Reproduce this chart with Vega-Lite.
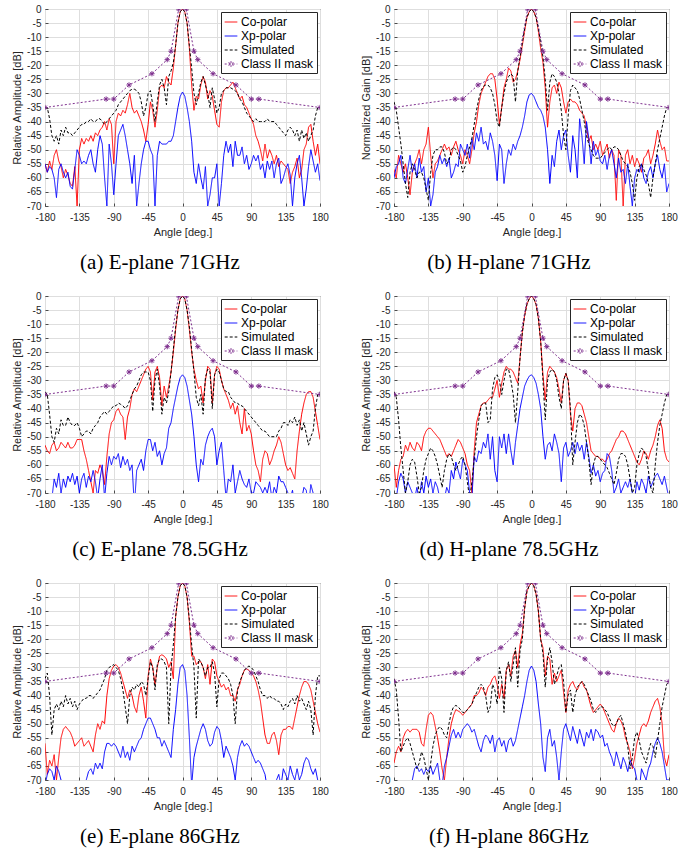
{
"$schema": "https://vega.github.io/schema/vega-lite/v6.json",
"padding": {"left": 11, "top": 3, "right": 5, "bottom": 5},
"config": {
 "font": "Liberation Sans",
 "view": {"stroke": "#262626", "strokeWidth": 1},
 "axis": {"grid": true, "gridColor": "#dedede", "gridWidth": 1, "domain": false, "tickSize": -3, "tickColor": "#262626", "tickWidth": 0.8, "labelFont": "Liberation Sans", "labelFontSize": 10, "labelColor": "#262626", "labelPadding": 7, "labelFlush": false, "labelOverlap": false, "titleFont": "Liberation Sans", "titleFontSize": 11, "titleFontWeight": "normal", "titleColor": "#262626", "titlePadding": 4},
 "axisX": {"labelPadding": 9, "titlePadding": 4},
 "legend": {"orient": "top-right", "offset": 3, "fillColor": "white", "strokeColor": "#262626", "padding": 3, "symbolType": "stroke", "symbolSize": 160, "symbolStrokeWidth": 1, "labelFont": "Liberation Sans", "labelFontSize": 12, "labelColor": "#000000", "labelOffset": 3, "rowPadding": 1, "cornerRadius": 0},
 "title": {"font": "Liberation Serif", "fontSize": 21, "fontWeight": "normal", "color": "#000000", "orient": "bottom", "offset": 15, "anchor": "middle", "frame": "bounds", "dx": -10}
},
"datasets": {
"M": [{"a":-180,"v":-35},{"a":-100,"v":-32},{"a":-90,"v":-32},{"a":-70,"v":-27},{"a":-40,"v":-23},{"a":-20,"v":-18},{"a":-15,"v":-15},{"a":-5,"v":0},{"a":5,"v":0},{"a":15,"v":-15},{"a":20,"v":-18},{"a":40,"v":-23},{"a":70,"v":-27},{"a":90,"v":-32},{"a":100,"v":-32},{"a":180,"v":-35}],
"A": [
{"a":-180,"c":-55,"x":-55,"s":-35},{"a":-177,"c":-58,"x":-58,"s":-35},{"a":-174,"c":-54,"x":-56,"s":-39},{"a":-171,"c":-57,"x":-57,"s":-45},{"a":-168,"c":-52,"x":-60,"s":-47},{"a":-165,"c":-50,"x":-67,"s":-45},{"a":-162,"c":-54,"x":-57,"s":-48},{"a":-159,"c":-56,"x":-55,"s":-43},{"a":-156,"c":-60,"x":-58,"s":-45},{"a":-153,"c":-57,"x":-60,"s":-42},{"a":-150,"c":-59,"x":-58,"s":-44},{"a":-147,"c":-62,"x":-63,"s":-44},{"a":-144,"c":-63,"x":-64,"s":-45},{"a":-141,"c":-56,"x":-57,"s":-44},{"a":-138,"c":-70,"x":-50,"s":-43},{"a":-135,"c":-50,"x":-52,"s":-42},{"a":-132,"c":-46,"x":-55,"s":-41},{"a":-129,"c":-48,"x":-54,"s":-41},{"a":-126,"c":-46,"x":-55,"s":-40},{"a":-123,"c":-47,"x":-52,"s":-40},{"a":-120,"c":-45,"x":-50,"s":-39},{"a":-117,"c":-47,"x":-55,"s":-40},{"a":-114,"c":-44,"x":-58,"s":-40},{"a":-111,"c":-45,"x":-50,"s":-39},{"a":-108,"c":-43,"x":-45,"s":-39},{"a":-105,"c":-42,"x":-48,"s":-40},{"a":-102,"c":-40,"x":-60,"s":-41},{"a":-99,"c":-43,"x":-70,"s":-40},{"a":-96,"c":-39,"x":-48,"s":-39},{"a":-93,"c":-41,"x":-55,"s":-38},{"a":-90,"c":-55,"x":-66,"s":-37},{"a":-87,"c":-40,"x":-55,"s":-36},{"a":-84,"c":-37,"x":-45,"s":-34},{"a":-81,"c":-38,"x":-43,"s":-33},{"a":-78,"c":-36,"x":-41,"s":-32},{"a":-75,"c":-37,"x":-45,"s":-31},{"a":-72,"c":-34,"x":-50,"s":-30},{"a":-69,"c":-30,"x":-55,"s":-29},{"a":-66,"c":-35,"x":-62,"s":-28.5},{"a":-63,"c":-37,"x":-52,"s":-28.5},{"a":-60,"c":-36,"x":-70,"s":-29},{"a":-57,"c":-38,"x":-62,"s":-30},{"a":-54,"c":-40,"x":-55,"s":-33},{"a":-51,"c":-43,"x":-50,"s":-38},{"a":-48,"c":-47,"x":-47,"s":-35},{"a":-45,"c":-41,"x":-47,"s":-30},{"a":-42,"c":-33,"x":-50,"s":-29},{"a":-39,"c":-36,"x":-52,"s":-34},{"a":-36,"c":-42,"x":-70,"s":-40},{"a":-33,"c":-36,"x":-52,"s":-33},{"a":-30,"c":-28,"x":-47,"s":-27},{"a":-27,"c":-27,"x":-48,"s":-25},{"a":-24,"c":-28,"x":-48,"s":-28},{"a":-21,"c":-24,"x":-48,"s":-34},{"a":-18,"c":-26,"x":-47,"s":-24},{"a":-15,"c":-27,"x":-47,"s":-22},{"a":-12,"c":-21,"x":-45,"s":-19},{"a":-9,"c":-13,"x":-40,"s":-13},{"a":-6,"c":-5,"x":-35,"s":-5},{"a":-3,"c":-1,"x":-31,"s":-1},{"a":0,"c":0,"x":-29.5,"s":0},{"a":3,"c":-1,"x":-31,"s":-1},{"a":6,"c":-5,"x":-35,"s":-5},{"a":9,"c":-14,"x":-40,"s":-13},{"a":12,"c":-27,"x":-47,"s":-21},{"a":15,"c":-36,"x":-58,"s":-30},{"a":18,"c":-31,"x":-62,"s":-34},{"a":21,"c":-32,"x":-55,"s":-30},{"a":24,"c":-27,"x":-60,"s":-26},{"a":27,"c":-24,"x":-64,"s":-24},{"a":30,"c":-26,"x":-56,"s":-27},{"a":33,"c":-32,"x":-70,"s":-30},{"a":36,"c":-29,"x":-66,"s":-35},{"a":39,"c":-31,"x":-60,"s":-28},{"a":42,"c":-36,"x":-60,"s":-32},{"a":45,"c":-41,"x":-55,"s":-37},{"a":48,"c":-42,"x":-70,"s":-35},{"a":51,"c":-33,"x":-62,"s":-30},{"a":54,"c":-29,"x":-52,"s":-29},{"a":57,"c":-28,"x":-47,"s":-28},{"a":60,"c":-28,"x":-51,"s":-28},{"a":63,"c":-27,"x":-48,"s":-28},{"a":66,"c":-26,"x":-56,"s":-28.5},{"a":69,"c":-28,"x":-47,"s":-29},{"a":72,"c":-30,"x":-52,"s":-30},{"a":75,"c":-32,"x":-52,"s":-32},{"a":78,"c":-31,"x":-49,"s":-33},{"a":81,"c":-34,"x":-55,"s":-35},{"a":84,"c":-35,"x":-52,"s":-37},{"a":87,"c":-37,"x":-57,"s":-38},{"a":90,"c":-39,"x":-55,"s":-39},{"a":93,"c":-41,"x":-52,"s":-40},{"a":96,"c":-45,"x":-54,"s":-39},{"a":99,"c":-47,"x":-52,"s":-40},{"a":102,"c":-50,"x":-57,"s":-40},{"a":105,"c":-54,"x":-55,"s":-40},{"a":108,"c":-48,"x":-60,"s":-40},{"a":111,"c":-53,"x":-54,"s":-39},{"a":114,"c":-50,"x":-57,"s":-40},{"a":117,"c":-52,"x":-54,"s":-40},{"a":120,"c":-55,"x":-60,"s":-40},{"a":123,"c":-52,"x":-55,"s":-41},{"a":126,"c":-56,"x":-53,"s":-42},{"a":129,"c":-54,"x":-62,"s":-43},{"a":132,"c":-55,"x":-60,"s":-44},{"a":135,"c":-56,"x":-57,"s":-45},{"a":138,"c":-57,"x":-55,"s":-43},{"a":141,"c":-62,"x":-59,"s":-42},{"a":144,"c":-58,"x":-70,"s":-43},{"a":147,"c":-56,"x":-60,"s":-45},{"a":150,"c":-53,"x":-55,"s":-43},{"a":153,"c":-60,"x":-52,"s":-47},{"a":156,"c":-57,"x":-60,"s":-43},{"a":159,"c":-50,"x":-70,"s":-46},{"a":162,"c":-48,"x":-64,"s":-44},{"a":165,"c":-42,"x":-56,"s":-47},{"a":168,"c":-41,"x":-50,"s":-45},{"a":171,"c":-47,"x":-54,"s":-43},{"a":174,"c":-52,"x":-58,"s":-38},{"a":177,"c":-48,"x":-55,"s":-35},{"a":180,"c":-55,"x":-61,"s":-35}],
"B": [
{"a":-180,"c":-57,"x":-60,"s":-33},{"a":-177,"c":-60,"x":-56,"s":-36},{"a":-174,"c":-52,"x":-55,"s":-42},{"a":-171,"c":-55,"x":-52,"s":-48},{"a":-168,"c":-58,"x":-60,"s":-55},{"a":-165,"c":-55,"x":-62,"s":-62},{"a":-162,"c":-60,"x":-57,"s":-67},{"a":-159,"c":-66,"x":-52,"s":-58},{"a":-156,"c":-58,"x":-58,"s":-55},{"a":-153,"c":-55,"x":-55,"s":-57},{"a":-150,"c":-53,"x":-60,"s":-60},{"a":-147,"c":-50,"x":-53,"s":-58},{"a":-144,"c":-55,"x":-58,"s":-58},{"a":-141,"c":-50,"x":-56,"s":-60},{"a":-138,"c":-48,"x":-65,"s":-64},{"a":-135,"c":-42,"x":-60,"s":-68},{"a":-132,"c":-52,"x":-70,"s":-58},{"a":-129,"c":-60,"x":-66,"s":-52},{"a":-126,"c":-55,"x":-58,"s":-50},{"a":-123,"c":-54,"x":-56,"s":-50},{"a":-120,"c":-52,"x":-52,"s":-49},{"a":-117,"c":-50,"x":-55,"s":-49},{"a":-114,"c":-48,"x":-53,"s":-51},{"a":-111,"c":-50,"x":-56,"s":-55},{"a":-108,"c":-49,"x":-53,"s":-54},{"a":-105,"c":-52,"x":-60,"s":-50},{"a":-102,"c":-49,"x":-58,"s":-49},{"a":-99,"c":-47,"x":-55,"s":-50},{"a":-96,"c":-50,"x":-56,"s":-52},{"a":-93,"c":-52,"x":-48,"s":-54},{"a":-90,"c":-55,"x":-50,"s":-58},{"a":-87,"c":-50,"x":-52,"s":-56},{"a":-84,"c":-52,"x":-48,"s":-52},{"a":-81,"c":-55,"x":-53,"s":-49},{"a":-78,"c":-50,"x":-46,"s":-46},{"a":-75,"c":-44,"x":-50,"s":-41},{"a":-72,"c":-40,"x":-44,"s":-36},{"a":-69,"c":-34,"x":-47,"s":-32},{"a":-66,"c":-30,"x":-42,"s":-29},{"a":-63,"c":-28,"x":-48,"s":-27.5},{"a":-60,"c":-26,"x":-47,"s":-27},{"a":-57,"c":-24,"x":-50,"s":-27},{"a":-54,"c":-23,"x":-44,"s":-28},{"a":-51,"c":-23,"x":-47,"s":-30},{"a":-48,"c":-25,"x":-52,"s":-34},{"a":-45,"c":-32,"x":-61,"s":-40},{"a":-42,"c":-41,"x":-48,"s":-42},{"a":-39,"c":-35,"x":-50,"s":-35},{"a":-36,"c":-28,"x":-62,"s":-30},{"a":-33,"c":-25,"x":-55,"s":-26},{"a":-30,"c":-21,"x":-50,"s":-24},{"a":-27,"c":-22,"x":-52,"s":-23},{"a":-24,"c":-26,"x":-48,"s":-24},{"a":-21,"c":-25,"x":-50,"s":-33},{"a":-18,"c":-22,"x":-47,"s":-22},{"a":-15,"c":-18,"x":-45,"s":-17},{"a":-12,"c":-13,"x":-42,"s":-12},{"a":-9,"c":-8,"x":-38,"s":-7},{"a":-6,"c":-3,"x":-33,"s":-3},{"a":-3,"c":-1,"x":-30.5,"s":-1},{"a":0,"c":0,"x":-30,"s":0},{"a":3,"c":-1,"x":-31,"s":-1},{"a":6,"c":-3,"x":-33,"s":-3},{"a":9,"c":-8,"x":-35,"s":-7},{"a":12,"c":-14,"x":-36,"s":-12},{"a":15,"c":-19,"x":-38,"s":-17},{"a":18,"c":-28,"x":-42,"s":-25},{"a":21,"c":-42,"x":-50,"s":-36},{"a":24,"c":-33,"x":-62,"s":-26},{"a":27,"c":-28,"x":-52,"s":-23},{"a":30,"c":-27,"x":-56,"s":-24},{"a":33,"c":-30,"x":-47,"s":-26},{"a":36,"c":-26,"x":-43,"s":-30},{"a":39,"c":-28,"x":-50,"s":-36},{"a":42,"c":-33,"x":-45,"s":-45},{"a":45,"c":-37,"x":-43,"s":-50},{"a":48,"c":-33,"x":-52,"s":-38},{"a":51,"c":-32,"x":-58,"s":-29},{"a":54,"c":-33,"x":-45,"s":-27},{"a":57,"c":-33,"x":-50,"s":-28},{"a":60,"c":-34,"x":-60,"s":-29},{"a":63,"c":-36,"x":-39,"s":-32},{"a":66,"c":-37,"x":-45,"s":-36},{"a":69,"c":-38,"x":-55,"s":-40},{"a":72,"c":-42,"x":-40,"s":-45},{"a":75,"c":-47,"x":-46,"s":-48},{"a":78,"c":-45,"x":-55,"s":-50},{"a":81,"c":-50,"x":-47,"s":-52},{"a":84,"c":-48,"x":-52,"s":-53},{"a":87,"c":-50,"x":-50,"s":-53},{"a":90,"c":-47,"x":-54,"s":-53},{"a":93,"c":-52,"x":-55,"s":-52},{"a":96,"c":-50,"x":-52,"s":-51},{"a":99,"c":-48,"x":-57,"s":-50},{"a":102,"c":-53,"x":-52,"s":-49},{"a":105,"c":-50,"x":-50,"s":-50},{"a":108,"c":-52,"x":-55,"s":-49},{"a":111,"c":-68,"x":-60,"s":-49},{"a":114,"c":-50,"x":-53,"s":-50},{"a":117,"c":-52,"x":-58,"s":-52},{"a":120,"c":-70,"x":-57,"s":-54},{"a":123,"c":-52,"x":-62,"s":-55},{"a":126,"c":-50,"x":-55,"s":-56},{"a":129,"c":-55,"x":-63,"s":-58},{"a":132,"c":-52,"x":-70,"s":-62},{"a":135,"c":-56,"x":-60,"s":-68},{"a":138,"c":-53,"x":-57,"s":-60},{"a":141,"c":-55,"x":-58,"s":-56},{"a":144,"c":-58,"x":-55,"s":-55},{"a":147,"c":-53,"x":-60,"s":-57},{"a":150,"c":-52,"x":-62,"s":-59},{"a":153,"c":-50,"x":-58,"s":-62},{"a":156,"c":-55,"x":-56,"s":-67},{"a":159,"c":-52,"x":-60,"s":-60},{"a":162,"c":-48,"x":-55,"s":-55},{"a":165,"c":-43,"x":-52,"s":-50},{"a":168,"c":-47,"x":-57,"s":-46},{"a":171,"c":-50,"x":-60,"s":-42},{"a":174,"c":-49,"x":-55,"s":-38},{"a":177,"c":-54,"x":-65,"s":-35},{"a":180,"c":-54,"x":-62,"s":-35}],
"C": [
{"a":-180,"c":-53,"x":-70,"s":-34},{"a":-177,"c":-55,"x":-71,"s":-35},{"a":-174,"c":-56,"x":-75,"s":-42},{"a":-171,"c":-53,"x":-72,"s":-50},{"a":-168,"c":-52,"x":-65,"s":-52},{"a":-165,"c":-55,"x":-68,"s":-47},{"a":-162,"c":-54,"x":-63,"s":-49},{"a":-159,"c":-52,"x":-70,"s":-44},{"a":-156,"c":-53,"x":-65,"s":-46},{"a":-153,"c":-54,"x":-68,"s":-46},{"a":-150,"c":-52,"x":-64,"s":-43},{"a":-147,"c":-54,"x":-66,"s":-45},{"a":-144,"c":-54,"x":-63,"s":-46},{"a":-141,"c":-53,"x":-67,"s":-46},{"a":-138,"c":-51,"x":-64,"s":-45},{"a":-135,"c":-51,"x":-70,"s":-47},{"a":-132,"c":-51,"x":-65,"s":-50},{"a":-129,"c":-55,"x":-63,"s":-49},{"a":-126,"c":-58,"x":-68,"s":-48},{"a":-123,"c":-62,"x":-64,"s":-48},{"a":-120,"c":-66,"x":-66,"s":-49},{"a":-117,"c":-70,"x":-62,"s":-47},{"a":-114,"c":-62,"x":-66,"s":-46},{"a":-111,"c":-63,"x":-72,"s":-45},{"a":-108,"c":-60,"x":-65,"s":-43},{"a":-105,"c":-62,"x":-60,"s":-42},{"a":-102,"c":-67,"x":-72,"s":-41},{"a":-99,"c":-57,"x":-63,"s":-42},{"a":-96,"c":-49,"x":-57,"s":-41},{"a":-93,"c":-45,"x":-60,"s":-40},{"a":-90,"c":-44,"x":-57,"s":-39},{"a":-87,"c":-41,"x":-58,"s":-39},{"a":-84,"c":-40,"x":-56,"s":-38},{"a":-81,"c":-42,"x":-61,"s":-38.5},{"a":-78,"c":-43,"x":-57,"s":-39},{"a":-75,"c":-51,"x":-60,"s":-40},{"a":-72,"c":-43,"x":-58,"s":-39},{"a":-69,"c":-40,"x":-62,"s":-37},{"a":-66,"c":-35,"x":-60,"s":-35},{"a":-63,"c":-33,"x":-75,"s":-33},{"a":-60,"c":-34,"x":-62,"s":-32},{"a":-57,"c":-32,"x":-60,"s":-30},{"a":-54,"c":-30,"x":-58,"s":-28},{"a":-51,"c":-28,"x":-62,"s":-27},{"a":-48,"c":-26,"x":-55,"s":-27},{"a":-45,"c":-25,"x":-51,"s":-27},{"a":-42,"c":-27,"x":-51,"s":-30},{"a":-39,"c":-37,"x":-55,"s":-41},{"a":-36,"c":-27,"x":-52,"s":-30},{"a":-33,"c":-25,"x":-57,"s":-26},{"a":-30,"c":-29,"x":-55,"s":-32},{"a":-27,"c":-39,"x":-60,"s":-42},{"a":-24,"c":-32,"x":-56,"s":-36},{"a":-21,"c":-36,"x":-54,"s":-38},{"a":-18,"c":-32,"x":-47,"s":-34},{"a":-15,"c":-27,"x":-45,"s":-27},{"a":-12,"c":-20,"x":-40,"s":-19},{"a":-9,"c":-12,"x":-36,"s":-11},{"a":-6,"c":-5,"x":-32,"s":-5},{"a":-3,"c":-1,"x":-29,"s":-1},{"a":0,"c":0,"x":-28,"s":0},{"a":3,"c":-1,"x":-29,"s":-1},{"a":6,"c":-5,"x":-32,"s":-5},{"a":9,"c":-12,"x":-37,"s":-11},{"a":12,"c":-20,"x":-42,"s":-19},{"a":15,"c":-26,"x":-50,"s":-27},{"a":18,"c":-30,"x":-60,"s":-36},{"a":21,"c":-33,"x":-66,"s":-39},{"a":24,"c":-32,"x":-58,"s":-35},{"a":27,"c":-38,"x":-60,"s":-42},{"a":30,"c":-30,"x":-53,"s":-29},{"a":33,"c":-25,"x":-50,"s":-26},{"a":36,"c":-26,"x":-48,"s":-27},{"a":39,"c":-38,"x":-47,"s":-40},{"a":42,"c":-28,"x":-50,"s":-28},{"a":45,"c":-25,"x":-60,"s":-26},{"a":48,"c":-26,"x":-55,"s":-27},{"a":51,"c":-30,"x":-52,"s":-30},{"a":54,"c":-33,"x":-62,"s":-33},{"a":57,"c":-35,"x":-72,"s":-34},{"a":60,"c":-37,"x":-65,"s":-34},{"a":63,"c":-40,"x":-66,"s":-36},{"a":66,"c":-38,"x":-60,"s":-37},{"a":69,"c":-42,"x":-70,"s":-38},{"a":72,"c":-39,"x":-66,"s":-38},{"a":75,"c":-45,"x":-62,"s":-39},{"a":78,"c":-49,"x":-65,"s":-39},{"a":81,"c":-40,"x":-67,"s":-40},{"a":84,"c":-48,"x":-68,"s":-41},{"a":87,"c":-46,"x":-65,"s":-42},{"a":90,"c":-49,"x":-70,"s":-43},{"a":93,"c":-55,"x":-70,"s":-44},{"a":96,"c":-60,"x":-66,"s":-45},{"a":99,"c":-62,"x":-67,"s":-46},{"a":102,"c":-66,"x":-68,"s":-47},{"a":105,"c":-58,"x":-70,"s":-48},{"a":108,"c":-55,"x":-68,"s":-48},{"a":111,"c":-56,"x":-70,"s":-49},{"a":114,"c":-60,"x":-66,"s":-50},{"a":117,"c":-58,"x":-72,"s":-50},{"a":120,"c":-55,"x":-68,"s":-50},{"a":123,"c":-53,"x":-70,"s":-50},{"a":126,"c":-50,"x":-64,"s":-48},{"a":129,"c":-52,"x":-66,"s":-47},{"a":132,"c":-56,"x":-66,"s":-45},{"a":135,"c":-60,"x":-68,"s":-45},{"a":138,"c":-62,"x":-70,"s":-46},{"a":141,"c":-61,"x":-72,"s":-44},{"a":144,"c":-63,"x":-69,"s":-45},{"a":147,"c":-65,"x":-75,"s":-43},{"a":150,"c":-55,"x":-72,"s":-46},{"a":153,"c":-48,"x":-70,"s":-44},{"a":156,"c":-42,"x":-72,"s":-48},{"a":159,"c":-38,"x":-68,"s":-45},{"a":162,"c":-35,"x":-69,"s":-49},{"a":165,"c":-34,"x":-75,"s":-53},{"a":168,"c":-34,"x":-67,"s":-50},{"a":171,"c":-36,"x":-70,"s":-48},{"a":174,"c":-41,"x":-75,"s":-40},{"a":177,"c":-46,"x":-72,"s":-35},{"a":180,"c":-51,"x":-75,"s":-34}],
"D": [
{"a":-180,"c":-60,"x":-70,"s":-34},{"a":-177,"c":-68,"x":-72,"s":-36},{"a":-174,"c":-62,"x":-66,"s":-44},{"a":-171,"c":-58,"x":-63,"s":-54},{"a":-168,"c":-57,"x":-65,"s":-62},{"a":-165,"c":-53,"x":-70,"s":-70},{"a":-162,"c":-55,"x":-66,"s":-66},{"a":-159,"c":-52,"x":-68,"s":-60},{"a":-156,"c":-54,"x":-70,"s":-58},{"a":-153,"c":-55,"x":-72,"s":-59},{"a":-150,"c":-52,"x":-68,"s":-64},{"a":-147,"c":-53,"x":-73,"s":-70},{"a":-144,"c":-55,"x":-66,"s":-68},{"a":-141,"c":-50,"x":-70,"s":-62},{"a":-138,"c":-48,"x":-64,"s":-58},{"a":-135,"c":-47,"x":-68,"s":-56},{"a":-132,"c":-47,"x":-65,"s":-54},{"a":-129,"c":-48,"x":-70,"s":-55},{"a":-126,"c":-49,"x":-66,"s":-57},{"a":-123,"c":-50,"x":-68,"s":-60},{"a":-120,"c":-51,"x":-72,"s":-64},{"a":-117,"c":-53,"x":-75,"s":-68},{"a":-114,"c":-55,"x":-72,"s":-62},{"a":-111,"c":-57,"x":-68,"s":-58},{"a":-108,"c":-56,"x":-70,"s":-56},{"a":-105,"c":-57,"x":-62,"s":-57},{"a":-102,"c":-55,"x":-65,"s":-60},{"a":-99,"c":-53,"x":-59,"s":-62},{"a":-96,"c":-51,"x":-62,"s":-60},{"a":-93,"c":-52,"x":-65,"s":-58},{"a":-90,"c":-54,"x":-58,"s":-57},{"a":-87,"c":-56,"x":-60,"s":-60},{"a":-84,"c":-60,"x":-62,"s":-66},{"a":-81,"c":-62,"x":-70,"s":-72},{"a":-78,"c":-70,"x":-72,"s":-66},{"a":-75,"c":-55,"x":-57,"s":-58},{"a":-72,"c":-45,"x":-59,"s":-50},{"a":-69,"c":-42,"x":-55,"s":-44},{"a":-66,"c":-39,"x":-56,"s":-39},{"a":-63,"c":-38,"x":-52,"s":-38},{"a":-60,"c":-38,"x":-54,"s":-38},{"a":-57,"c":-37,"x":-49,"s":-45},{"a":-54,"c":-36,"x":-58,"s":-44},{"a":-51,"c":-36,"x":-50,"s":-33},{"a":-48,"c":-33,"x":-62,"s":-29},{"a":-45,"c":-30,"x":-66,"s":-28},{"a":-42,"c":-36,"x":-50,"s":-30},{"a":-39,"c":-31,"x":-54,"s":-35},{"a":-36,"c":-27,"x":-49,"s":-30},{"a":-33,"c":-25,"x":-56,"s":-26},{"a":-30,"c":-26,"x":-49,"s":-26},{"a":-27,"c":-26,"x":-55,"s":-30},{"a":-24,"c":-27,"x":-60,"s":-35},{"a":-21,"c":-29,"x":-52,"s":-45},{"a":-18,"c":-31,"x":-46,"s":-34},{"a":-15,"c":-22,"x":-40,"s":-22},{"a":-12,"c":-13,"x":-36,"s":-13},{"a":-9,"c":-7,"x":-32,"s":-7},{"a":-6,"c":-3,"x":-30,"s":-3},{"a":-3,"c":-1,"x":-28.5,"s":-1},{"a":0,"c":0,"x":-28,"s":0},{"a":3,"c":-1,"x":-29,"s":-1},{"a":6,"c":-3,"x":-31,"s":-3},{"a":9,"c":-8,"x":-35,"s":-8},{"a":12,"c":-16,"x":-40,"s":-16},{"a":15,"c":-28,"x":-50,"s":-30},{"a":18,"c":-37,"x":-58,"s":-44},{"a":21,"c":-27,"x":-53,"s":-30},{"a":24,"c":-25,"x":-52,"s":-27},{"a":27,"c":-26,"x":-55,"s":-26},{"a":30,"c":-27,"x":-49,"s":-27},{"a":33,"c":-29,"x":-52,"s":-30},{"a":36,"c":-33,"x":-56,"s":-36},{"a":39,"c":-38,"x":-66,"s":-40},{"a":42,"c":-30,"x":-54,"s":-30},{"a":45,"c":-27.5,"x":-52,"s":-27.5},{"a":48,"c":-30,"x":-57,"s":-30},{"a":51,"c":-42,"x":-55,"s":-40},{"a":54,"c":-48,"x":-52,"s":-60},{"a":57,"c":-40,"x":-56,"s":-52},{"a":60,"c":-38,"x":-52,"s":-45},{"a":63,"c":-38,"x":-55,"s":-42},{"a":66,"c":-39,"x":-53,"s":-43},{"a":69,"c":-42,"x":-58,"s":-46},{"a":72,"c":-45,"x":-52,"s":-52},{"a":75,"c":-50,"x":-57,"s":-58},{"a":78,"c":-55,"x":-63,"s":-67},{"a":81,"c":-56,"x":-60,"s":-60},{"a":84,"c":-57,"x":-64,"s":-57},{"a":87,"c":-57,"x":-62,"s":-57},{"a":90,"c":-58,"x":-66,"s":-58},{"a":93,"c":-58,"x":-63,"s":-59},{"a":96,"c":-59,"x":-62,"s":-60},{"a":99,"c":-58,"x":-56,"s":-61},{"a":102,"c":-56,"x":-57,"s":-63},{"a":105,"c":-55,"x":-62,"s":-65},{"a":108,"c":-53,"x":-70,"s":-67},{"a":111,"c":-51,"x":-68,"s":-63},{"a":114,"c":-50,"x":-65,"s":-58},{"a":117,"c":-48,"x":-70,"s":-56},{"a":120,"c":-48,"x":-68,"s":-56},{"a":123,"c":-49,"x":-66,"s":-57},{"a":126,"c":-51,"x":-68,"s":-60},{"a":129,"c":-53,"x":-65,"s":-65},{"a":132,"c":-55,"x":-70,"s":-70},{"a":135,"c":-57,"x":-72,"s":-68},{"a":138,"c":-59,"x":-66,"s":-60},{"a":141,"c":-60,"x":-69,"s":-56},{"a":144,"c":-58,"x":-65,"s":-54},{"a":147,"c":-55,"x":-67,"s":-55},{"a":150,"c":-56,"x":-70,"s":-57},{"a":153,"c":-58,"x":-64,"s":-62},{"a":156,"c":-55,"x":-68,"s":-68},{"a":159,"c":-53,"x":-66,"s":-70},{"a":162,"c":-50,"x":-64,"s":-60},{"a":165,"c":-46,"x":-63,"s":-52},{"a":168,"c":-44,"x":-65,"s":-46},{"a":171,"c":-47,"x":-67,"s":-42},{"a":174,"c":-55,"x":-64,"s":-38},{"a":177,"c":-58,"x":-68,"s":-35},{"a":180,"c":-59,"x":-72,"s":-34}],
"E": [
{"a":-180,"c":-57,"x":-72,"s":-34},{"a":-177,"c":-68,"x":-68,"s":-32},{"a":-174,"c":-63,"x":-66,"s":-40},{"a":-171,"c":-65,"x":-67,"s":-54},{"a":-168,"c":-61,"x":-70,"s":-45},{"a":-165,"c":-70,"x":-65,"s":-43},{"a":-162,"c":-62,"x":-67,"s":-45},{"a":-159,"c":-55,"x":-70,"s":-42},{"a":-156,"c":-52,"x":-72,"s":-44},{"a":-153,"c":-51,"x":-70,"s":-40},{"a":-150,"c":-52,"x":-73,"s":-43},{"a":-147,"c":-53,"x":-72,"s":-41},{"a":-144,"c":-55,"x":-75,"s":-44},{"a":-141,"c":-58,"x":-72,"s":-42},{"a":-138,"c":-57,"x":-74,"s":-45},{"a":-135,"c":-56,"x":-70,"s":-43},{"a":-132,"c":-55,"x":-72,"s":-42},{"a":-129,"c":-58,"x":-75,"s":-41},{"a":-126,"c":-57,"x":-70,"s":-41},{"a":-123,"c":-56,"x":-67,"s":-40},{"a":-120,"c":-58,"x":-66,"s":-40},{"a":-117,"c":-60,"x":-68,"s":-41},{"a":-114,"c":-54,"x":-64,"s":-40},{"a":-111,"c":-50,"x":-66,"s":-39},{"a":-108,"c":-52,"x":-64,"s":-38},{"a":-105,"c":-49,"x":-66,"s":-36},{"a":-102,"c":-50,"x":-60,"s":-34},{"a":-99,"c":-40,"x":-57,"s":-31},{"a":-96,"c":-34,"x":-57,"s":-30},{"a":-93,"c":-31,"x":-58,"s":-29.5},{"a":-90,"c":-29.5,"x":-57,"s":-29},{"a":-87,"c":-29,"x":-58,"s":-30},{"a":-84,"c":-30,"x":-60,"s":-31},{"a":-81,"c":-32,"x":-62,"s":-34},{"a":-78,"c":-35,"x":-58,"s":-38},{"a":-75,"c":-38,"x":-62,"s":-44},{"a":-72,"c":-41,"x":-60,"s":-50},{"a":-69,"c":-38,"x":-63,"s":-40},{"a":-66,"c":-40,"x":-58,"s":-37},{"a":-63,"c":-44,"x":-60,"s":-38},{"a":-60,"c":-46,"x":-58,"s":-36},{"a":-57,"c":-40,"x":-56,"s":-37},{"a":-54,"c":-37,"x":-55,"s":-35},{"a":-51,"c":-42,"x":-52,"s":-36},{"a":-48,"c":-48,"x":-50,"s":-40},{"a":-45,"c":-33,"x":-48,"s":-34},{"a":-42,"c":-27,"x":-48,"s":-28},{"a":-39,"c":-30,"x":-50,"s":-30},{"a":-36,"c":-36,"x":-52,"s":-38},{"a":-33,"c":-30,"x":-55,"s":-29},{"a":-30,"c":-26,"x":-55,"s":-27},{"a":-27,"c":-25.5,"x":-58,"s":-27},{"a":-24,"c":-26,"x":-56,"s":-28},{"a":-21,"c":-27,"x":-58,"s":-30},{"a":-18,"c":-30,"x":-60,"s":-50},{"a":-15,"c":-28,"x":-62,"s":-30},{"a":-12,"c":-34,"x":-52,"s":-22},{"a":-9,"c":-12,"x":-45,"s":-12},{"a":-6,"c":-5,"x":-36,"s":-5},{"a":-3,"c":-1,"x":-30,"s":-1},{"a":0,"c":0,"x":-29,"s":0},{"a":3,"c":-1,"x":-31,"s":-1},{"a":6,"c":-5,"x":-40,"s":-5},{"a":9,"c":-14,"x":-55,"s":-13},{"a":12,"c":-26,"x":-72,"s":-22},{"a":15,"c":-26,"x":-62,"s":-30},{"a":18,"c":-29,"x":-58,"s":-48},{"a":21,"c":-28,"x":-55,"s":-27},{"a":24,"c":-28,"x":-52,"s":-28},{"a":27,"c":-30,"x":-50,"s":-30},{"a":30,"c":-34,"x":-52,"s":-33},{"a":33,"c":-29,"x":-56,"s":-30},{"a":36,"c":-36,"x":-58,"s":-30},{"a":39,"c":-27,"x":-57,"s":-28},{"a":42,"c":-28,"x":-53,"s":-32},{"a":45,"c":-33,"x":-51,"s":-44},{"a":48,"c":-35,"x":-52,"s":-34},{"a":51,"c":-37,"x":-56,"s":-32},{"a":54,"c":-36,"x":-62,"s":-32},{"a":57,"c":-38,"x":-58,"s":-33},{"a":60,"c":-37,"x":-60,"s":-34},{"a":63,"c":-40,"x":-62,"s":-36},{"a":66,"c":-40,"x":-65,"s":-40},{"a":69,"c":-42,"x":-70,"s":-50},{"a":72,"c":-38,"x":-62,"s":-38},{"a":75,"c":-36,"x":-58,"s":-35},{"a":78,"c":-33,"x":-56,"s":-33},{"a":81,"c":-31,"x":-58,"s":-31},{"a":84,"c":-30.5,"x":-57,"s":-30},{"a":87,"c":-31,"x":-58,"s":-29.5},{"a":90,"c":-32,"x":-60,"s":-30},{"a":93,"c":-33,"x":-62,"s":-31},{"a":96,"c":-35,"x":-64,"s":-33},{"a":99,"c":-38,"x":-63,"s":-35},{"a":102,"c":-42,"x":-64,"s":-38},{"a":105,"c":-48,"x":-66,"s":-40},{"a":108,"c":-54,"x":-68,"s":-40},{"a":111,"c":-57,"x":-73,"s":-41},{"a":114,"c":-57,"x":-74,"s":-40},{"a":117,"c":-54,"x":-75,"s":-41},{"a":120,"c":-53,"x":-72,"s":-41},{"a":123,"c":-56,"x":-70,"s":-42},{"a":126,"c":-61,"x":-68,"s":-42},{"a":129,"c":-54,"x":-72,"s":-43},{"a":132,"c":-52,"x":-66,"s":-45},{"a":135,"c":-52,"x":-68,"s":-43},{"a":138,"c":-51,"x":-70,"s":-44},{"a":141,"c":-51,"x":-65,"s":-42},{"a":144,"c":-52,"x":-68,"s":-41},{"a":147,"c":-48,"x":-70,"s":-43},{"a":150,"c":-44,"x":-66,"s":-40},{"a":153,"c":-40,"x":-70,"s":-42},{"a":156,"c":-37,"x":-68,"s":-41},{"a":159,"c":-35,"x":-64,"s":-43},{"a":162,"c":-35,"x":-62,"s":-45},{"a":165,"c":-36,"x":-63,"s":-42},{"a":168,"c":-38,"x":-66,"s":-45},{"a":171,"c":-42,"x":-68,"s":-54},{"a":174,"c":-46,"x":-66,"s":-40},{"a":177,"c":-50,"x":-70,"s":-33},{"a":180,"c":-53,"x":-72,"s":-33}],
"F": [
{"a":-180,"c":-64,"x":-75,"s":-34},{"a":-177,"c":-60,"x":-72,"s":-38},{"a":-174,"c":-58,"x":-70,"s":-48},{"a":-171,"c":-60,"x":-72,"s":-60},{"a":-168,"c":-55,"x":-74,"s":-58},{"a":-165,"c":-53,"x":-71,"s":-56},{"a":-162,"c":-52,"x":-73,"s":-55},{"a":-159,"c":-53,"x":-75,"s":-57},{"a":-156,"c":-52,"x":-70,"s":-60},{"a":-153,"c":-52,"x":-66,"s":-63},{"a":-150,"c":-52,"x":-65,"s":-66},{"a":-147,"c":-53,"x":-67,"s":-64},{"a":-144,"c":-57,"x":-66,"s":-60},{"a":-141,"c":-58,"x":-68,"s":-62},{"a":-138,"c":-52,"x":-66,"s":-66},{"a":-135,"c":-47,"x":-67,"s":-70},{"a":-132,"c":-46,"x":-65,"s":-64},{"a":-129,"c":-47,"x":-68,"s":-58},{"a":-126,"c":-51,"x":-66,"s":-54},{"a":-123,"c":-55,"x":-64,"s":-52},{"a":-120,"c":-60,"x":-70,"s":-51},{"a":-117,"c":-66,"x":-72,"s":-52},{"a":-114,"c":-70,"x":-65,"s":-54},{"a":-111,"c":-62,"x":-62,"s":-55},{"a":-108,"c":-55,"x":-58,"s":-50},{"a":-105,"c":-50,"x":-54,"s":-46},{"a":-102,"c":-47,"x":-52,"s":-44},{"a":-99,"c":-45,"x":-55,"s":-43.5},{"a":-96,"c":-45.5,"x":-53,"s":-44},{"a":-93,"c":-46,"x":-55,"s":-45},{"a":-90,"c":-47,"x":-52,"s":-46},{"a":-87,"c":-46,"x":-51,"s":-46},{"a":-84,"c":-45,"x":-50,"s":-45},{"a":-81,"c":-44,"x":-51,"s":-44},{"a":-78,"c":-43,"x":-53,"s":-43},{"a":-75,"c":-40,"x":-52,"s":-41},{"a":-72,"c":-40,"x":-55,"s":-39},{"a":-69,"c":-39,"x":-58,"s":-37},{"a":-66,"c":-37,"x":-60,"s":-36},{"a":-63,"c":-38,"x":-56,"s":-37},{"a":-60,"c":-40,"x":-54,"s":-40},{"a":-57,"c":-37,"x":-55,"s":-46},{"a":-54,"c":-36,"x":-57,"s":-44},{"a":-51,"c":-34,"x":-54,"s":-36},{"a":-48,"c":-33,"x":-60,"s":-38},{"a":-45,"c":-36,"x":-56,"s":-43},{"a":-42,"c":-41,"x":-55,"s":-30},{"a":-39,"c":-36,"x":-58,"s":-34},{"a":-36,"c":-41,"x":-56,"s":-46},{"a":-33,"c":-31,"x":-60,"s":-31},{"a":-30,"c":-29,"x":-56,"s":-28},{"a":-27,"c":-33,"x":-55,"s":-35},{"a":-24,"c":-26,"x":-58,"s":-29},{"a":-21,"c":-24,"x":-56,"s":-23},{"a":-18,"c":-30,"x":-52,"s":-37},{"a":-15,"c":-22,"x":-48,"s":-24},{"a":-12,"c":-18,"x":-44,"s":-20},{"a":-9,"c":-9,"x":-40,"s":-9},{"a":-6,"c":-3,"x":-35,"s":-3},{"a":-3,"c":-1,"x":-31,"s":-1},{"a":0,"c":0,"x":-29.5,"s":0},{"a":3,"c":-1,"x":-31,"s":-1},{"a":6,"c":-4,"x":-35,"s":-4},{"a":9,"c":-10,"x":-43,"s":-10},{"a":12,"c":-20,"x":-50,"s":-20},{"a":15,"c":-23,"x":-62,"s":-25},{"a":18,"c":-33,"x":-67,"s":-37},{"a":21,"c":-26,"x":-55,"s":-27},{"a":24,"c":-27,"x":-52,"s":-23},{"a":27,"c":-36,"x":-58,"s":-28},{"a":30,"c":-32,"x":-56,"s":-36},{"a":33,"c":-35,"x":-62,"s":-33},{"a":36,"c":-33,"x":-70,"s":-30},{"a":39,"c":-31,"x":-60,"s":-29},{"a":42,"c":-39,"x":-52,"s":-35},{"a":45,"c":-46,"x":-50,"s":-46},{"a":48,"c":-38,"x":-53,"s":-40},{"a":51,"c":-36,"x":-56,"s":-38},{"a":54,"c":-35,"x":-51,"s":-46},{"a":57,"c":-37,"x":-54,"s":-40},{"a":60,"c":-38,"x":-57,"s":-37},{"a":63,"c":-36,"x":-52,"s":-36},{"a":66,"c":-35,"x":-55,"s":-35},{"a":69,"c":-37,"x":-58,"s":-36},{"a":72,"c":-38,"x":-53,"s":-38},{"a":75,"c":-41,"x":-55,"s":-40},{"a":78,"c":-44,"x":-52,"s":-42},{"a":81,"c":-46,"x":-56,"s":-45},{"a":84,"c":-45,"x":-52,"s":-46},{"a":87,"c":-44,"x":-53,"s":-45},{"a":90,"c":-43,"x":-55,"s":-44},{"a":93,"c":-44,"x":-54,"s":-44},{"a":96,"c":-46,"x":-58,"s":-45},{"a":99,"c":-48,"x":-57,"s":-46},{"a":102,"c":-50,"x":-60,"s":-48},{"a":105,"c":-52,"x":-62,"s":-50},{"a":108,"c":-53,"x":-65,"s":-51},{"a":111,"c":-50,"x":-60,"s":-50},{"a":114,"c":-48,"x":-63,"s":-48},{"a":117,"c":-49,"x":-66,"s":-47},{"a":120,"c":-51,"x":-62,"s":-50},{"a":123,"c":-55,"x":-64,"s":-53},{"a":126,"c":-57,"x":-67,"s":-58},{"a":129,"c":-60,"x":-63,"s":-66},{"a":132,"c":-66,"x":-65,"s":-62},{"a":135,"c":-62,"x":-66,"s":-55},{"a":138,"c":-57,"x":-70,"s":-53},{"a":141,"c":-54,"x":-74,"s":-56},{"a":144,"c":-51,"x":-66,"s":-60},{"a":147,"c":-50,"x":-68,"s":-62},{"a":150,"c":-51,"x":-70,"s":-64},{"a":153,"c":-49,"x":-66,"s":-60},{"a":156,"c":-46,"x":-64,"s":-57},{"a":159,"c":-44,"x":-60,"s":-58},{"a":162,"c":-42,"x":-57,"s":-62},{"a":165,"c":-41,"x":-55,"s":-56},{"a":168,"c":-44,"x":-57,"s":-50},{"a":171,"c":-50,"x":-60,"s":-44},{"a":174,"c":-62,"x":-65,"s":-40},{"a":177,"c":-65,"x":-70,"s":-36},{"a":180,"c":-61,"x":-70,"s":-35}]
},
"columns": 2,
"spacing": {"row": 16, "column": 31},
"resolve": {"scale": {"color": "independent", "strokeDash": "independent"}, "legend": {"color": "independent", "strokeDash": "independent"}},
"concat": [
{"width": 275, "height": 197, "title": "(a) E-plane 71GHz",
 "encoding": {
  "x": {"field": "a", "type": "quantitative", "title": "Angle [deg.]", "scale": {"domain": [-180,180], "nice": false, "zero": false}, "axis": {"values": [-180,-135,-90,-45,0,45,90,135,180], "labelExpr": "'' + datum.value", "labelOverlap": false}},
  "y": {"field": "v", "type": "quantitative", "title": "Relative Amplitude [dB]", "scale": {"domain": [-70,0], "nice": false}, "axis": {"values": [0,-5,-10,-15,-20,-25,-30,-35,-40,-45,-50,-55,-60,-65,-70], "labelExpr": "'' + datum.value", "labelOverlap": false}}},
 "layer": [
 {"data": {"name": "A"}, "transform": [{"fold": ["c","x","s"], "as": ["k","v"]}], "mark": {"type": "line", "strokeWidth": 1, "clip": true},
  "encoding": {
   "color": {"field": "k", "type": "nominal", "scale": {"domain": ["c","x","s","m"], "range": ["#ff0000","#0000ff","#000000","#7e2f8e"]}, "legend": {"title": null, "labelExpr": "datum.label == 'c' ? 'Co-polar' : datum.label == 'x' ? 'Xp-polar' : datum.label == 's' ? 'Simulated' : 'Class II mask'", "encode": {"symbols": {"update": {"shape": {"signal": "datum.value == 'm' ? 'M-1,0L1,0M0,-0.45L0,0.45M-0.39,-0.22L0.39,0.22M-0.39,0.22L0.39,-0.22' : 'stroke'"}, "stroke": {"signal": "datum.value == 'c' ? '#ff0000' : datum.value == 'x' ? '#0000ff' : datum.value == 's' ? '#000000' : '#7e2f8e'"}, "strokeDash": {"signal": "datum.value == 's' ? [3,2] : datum.value == 'm' ? [2,2] : [1,0]"}, "strokeWidth": {"value": 1}, "fill": {"value": "transparent"}}}}}},
   "strokeDash": {"field": "k", "type": "nominal", "scale": {"domain": ["c","x","s","m"], "range": [[1,0],[1,0],[3,2],[2,2]]}, "legend": null}}},
 {"data": {"name": "M"}, "mark": {"type": "line", "strokeWidth": 1, "clip": true}, "encoding": {"color": {"datum": "m", "type": "nominal"}, "strokeDash": {"datum": "m", "type": "nominal"}}},
 {"data": {"name": "M"}, "mark": {"type": "point", "shape": "M-1,0L1,0M0,-1L0,1M-0.7,-0.7L0.7,0.7M-0.7,0.7L0.7,-0.7", "filled": false, "size": 28, "strokeWidth": 1, "color": "#7e2f8e", "opacity": 1, "clip": true}}
]},
{"width": 275, "height": 197, "title": "(b) H-plane 71GHz",
 "encoding": {
  "x": {"field": "a", "type": "quantitative", "title": "Angle [deg.]", "scale": {"domain": [-180,180], "nice": false, "zero": false}, "axis": {"values": [-180,-135,-90,-45,0,45,90,135,180], "labelExpr": "'' + datum.value", "labelOverlap": false}},
  "y": {"field": "v", "type": "quantitative", "title": "Normalized Gain [dB]", "scale": {"domain": [-70,0], "nice": false}, "axis": {"values": [0,-5,-10,-15,-20,-25,-30,-35,-40,-45,-50,-55,-60,-65,-70], "labelExpr": "'' + datum.value", "labelOverlap": false}}},
 "layer": [
 {"data": {"name": "B"}, "transform": [{"fold": ["c","x","s"], "as": ["k","v"]}], "mark": {"type": "line", "strokeWidth": 1, "clip": true},
  "encoding": {
   "color": {"field": "k", "type": "nominal", "scale": {"domain": ["c","x","s","m"], "range": ["#ff0000","#0000ff","#000000","#7e2f8e"]}, "legend": {"title": null, "labelExpr": "datum.label == 'c' ? 'Co-polar' : datum.label == 'x' ? 'Xp-polar' : datum.label == 's' ? 'Simulated' : 'Class II mask'", "encode": {"symbols": {"update": {"shape": {"signal": "datum.value == 'm' ? 'M-1,0L1,0M0,-0.45L0,0.45M-0.39,-0.22L0.39,0.22M-0.39,0.22L0.39,-0.22' : 'stroke'"}, "stroke": {"signal": "datum.value == 'c' ? '#ff0000' : datum.value == 'x' ? '#0000ff' : datum.value == 's' ? '#000000' : '#7e2f8e'"}, "strokeDash": {"signal": "datum.value == 's' ? [3,2] : datum.value == 'm' ? [2,2] : [1,0]"}, "strokeWidth": {"value": 1}, "fill": {"value": "transparent"}}}}}},
   "strokeDash": {"field": "k", "type": "nominal", "scale": {"domain": ["c","x","s","m"], "range": [[1,0],[1,0],[3,2],[2,2]]}, "legend": null}}},
 {"data": {"name": "M"}, "mark": {"type": "line", "strokeWidth": 1, "clip": true}, "encoding": {"color": {"datum": "m", "type": "nominal"}, "strokeDash": {"datum": "m", "type": "nominal"}}},
 {"data": {"name": "M"}, "mark": {"type": "point", "shape": "M-1,0L1,0M0,-1L0,1M-0.7,-0.7L0.7,0.7M-0.7,0.7L0.7,-0.7", "filled": false, "size": 28, "strokeWidth": 1, "color": "#7e2f8e", "opacity": 1, "clip": true}}
]},
{"width": 275, "height": 197, "title": "(c) E-plane 78.5GHz",
 "encoding": {
  "x": {"field": "a", "type": "quantitative", "title": "Angle [deg.]", "scale": {"domain": [-180,180], "nice": false, "zero": false}, "axis": {"values": [-180,-135,-90,-45,0,45,90,135,180], "labelExpr": "'' + datum.value", "labelOverlap": false}},
  "y": {"field": "v", "type": "quantitative", "title": "Relative Amplitude [dB]", "scale": {"domain": [-70,0], "nice": false}, "axis": {"values": [0,-5,-10,-15,-20,-25,-30,-35,-40,-45,-50,-55,-60,-65,-70], "labelExpr": "'' + datum.value", "labelOverlap": false}}},
 "layer": [
 {"data": {"name": "C"}, "transform": [{"fold": ["c","x","s"], "as": ["k","v"]}], "mark": {"type": "line", "strokeWidth": 1, "clip": true},
  "encoding": {
   "color": {"field": "k", "type": "nominal", "scale": {"domain": ["c","x","s","m"], "range": ["#ff0000","#0000ff","#000000","#7e2f8e"]}, "legend": {"title": null, "labelExpr": "datum.label == 'c' ? 'Co-polar' : datum.label == 'x' ? 'Xp-polar' : datum.label == 's' ? 'Simulated' : 'Class II mask'", "encode": {"symbols": {"update": {"shape": {"signal": "datum.value == 'm' ? 'M-1,0L1,0M0,-0.45L0,0.45M-0.39,-0.22L0.39,0.22M-0.39,0.22L0.39,-0.22' : 'stroke'"}, "stroke": {"signal": "datum.value == 'c' ? '#ff0000' : datum.value == 'x' ? '#0000ff' : datum.value == 's' ? '#000000' : '#7e2f8e'"}, "strokeDash": {"signal": "datum.value == 's' ? [3,2] : datum.value == 'm' ? [2,2] : [1,0]"}, "strokeWidth": {"value": 1}, "fill": {"value": "transparent"}}}}}},
   "strokeDash": {"field": "k", "type": "nominal", "scale": {"domain": ["c","x","s","m"], "range": [[1,0],[1,0],[3,2],[2,2]]}, "legend": null}}},
 {"data": {"name": "M"}, "mark": {"type": "line", "strokeWidth": 1, "clip": true}, "encoding": {"color": {"datum": "m", "type": "nominal"}, "strokeDash": {"datum": "m", "type": "nominal"}}},
 {"data": {"name": "M"}, "mark": {"type": "point", "shape": "M-1,0L1,0M0,-1L0,1M-0.7,-0.7L0.7,0.7M-0.7,0.7L0.7,-0.7", "filled": false, "size": 28, "strokeWidth": 1, "color": "#7e2f8e", "opacity": 1, "clip": true}}
]},
{"width": 275, "height": 197, "title": "(d) H-plane 78.5GHz",
 "encoding": {
  "x": {"field": "a", "type": "quantitative", "title": "Angle [deg.]", "scale": {"domain": [-180,180], "nice": false, "zero": false}, "axis": {"values": [-180,-135,-90,-45,0,45,90,135,180], "labelExpr": "'' + datum.value", "labelOverlap": false}},
  "y": {"field": "v", "type": "quantitative", "title": "Relative Amplitude [dB]", "scale": {"domain": [-70,0], "nice": false}, "axis": {"values": [0,-5,-10,-15,-20,-25,-30,-35,-40,-45,-50,-55,-60,-65,-70], "labelExpr": "'' + datum.value", "labelOverlap": false}}},
 "layer": [
 {"data": {"name": "D"}, "transform": [{"fold": ["c","x","s"], "as": ["k","v"]}], "mark": {"type": "line", "strokeWidth": 1, "clip": true},
  "encoding": {
   "color": {"field": "k", "type": "nominal", "scale": {"domain": ["c","x","s","m"], "range": ["#ff0000","#0000ff","#000000","#7e2f8e"]}, "legend": {"title": null, "labelExpr": "datum.label == 'c' ? 'Co-polar' : datum.label == 'x' ? 'Xp-polar' : datum.label == 's' ? 'Simulated' : 'Class II mask'", "encode": {"symbols": {"update": {"shape": {"signal": "datum.value == 'm' ? 'M-1,0L1,0M0,-0.45L0,0.45M-0.39,-0.22L0.39,0.22M-0.39,0.22L0.39,-0.22' : 'stroke'"}, "stroke": {"signal": "datum.value == 'c' ? '#ff0000' : datum.value == 'x' ? '#0000ff' : datum.value == 's' ? '#000000' : '#7e2f8e'"}, "strokeDash": {"signal": "datum.value == 's' ? [3,2] : datum.value == 'm' ? [2,2] : [1,0]"}, "strokeWidth": {"value": 1}, "fill": {"value": "transparent"}}}}}},
   "strokeDash": {"field": "k", "type": "nominal", "scale": {"domain": ["c","x","s","m"], "range": [[1,0],[1,0],[3,2],[2,2]]}, "legend": null}}},
 {"data": {"name": "M"}, "mark": {"type": "line", "strokeWidth": 1, "clip": true}, "encoding": {"color": {"datum": "m", "type": "nominal"}, "strokeDash": {"datum": "m", "type": "nominal"}}},
 {"data": {"name": "M"}, "mark": {"type": "point", "shape": "M-1,0L1,0M0,-1L0,1M-0.7,-0.7L0.7,0.7M-0.7,0.7L0.7,-0.7", "filled": false, "size": 28, "strokeWidth": 1, "color": "#7e2f8e", "opacity": 1, "clip": true}}
]},
{"width": 275, "height": 197, "title": "(e) E-plane 86GHz",
 "encoding": {
  "x": {"field": "a", "type": "quantitative", "title": "Angle [deg.]", "scale": {"domain": [-180,180], "nice": false, "zero": false}, "axis": {"values": [-180,-135,-90,-45,0,45,90,135,180], "labelExpr": "'' + datum.value", "labelOverlap": false}},
  "y": {"field": "v", "type": "quantitative", "title": "Relative Amplitude [dB]", "scale": {"domain": [-70,0], "nice": false}, "axis": {"values": [0,-5,-10,-15,-20,-25,-30,-35,-40,-45,-50,-55,-60,-65,-70], "labelExpr": "'' + datum.value", "labelOverlap": false}}},
 "layer": [
 {"data": {"name": "E"}, "transform": [{"fold": ["c","x","s"], "as": ["k","v"]}], "mark": {"type": "line", "strokeWidth": 1, "clip": true},
  "encoding": {
   "color": {"field": "k", "type": "nominal", "scale": {"domain": ["c","x","s","m"], "range": ["#ff0000","#0000ff","#000000","#7e2f8e"]}, "legend": {"title": null, "labelExpr": "datum.label == 'c' ? 'Co-polar' : datum.label == 'x' ? 'Xp-polar' : datum.label == 's' ? 'Simulated' : 'Class II mask'", "encode": {"symbols": {"update": {"shape": {"signal": "datum.value == 'm' ? 'M-1,0L1,0M0,-0.45L0,0.45M-0.39,-0.22L0.39,0.22M-0.39,0.22L0.39,-0.22' : 'stroke'"}, "stroke": {"signal": "datum.value == 'c' ? '#ff0000' : datum.value == 'x' ? '#0000ff' : datum.value == 's' ? '#000000' : '#7e2f8e'"}, "strokeDash": {"signal": "datum.value == 's' ? [3,2] : datum.value == 'm' ? [2,2] : [1,0]"}, "strokeWidth": {"value": 1}, "fill": {"value": "transparent"}}}}}},
   "strokeDash": {"field": "k", "type": "nominal", "scale": {"domain": ["c","x","s","m"], "range": [[1,0],[1,0],[3,2],[2,2]]}, "legend": null}}},
 {"data": {"name": "M"}, "mark": {"type": "line", "strokeWidth": 1, "clip": true}, "encoding": {"color": {"datum": "m", "type": "nominal"}, "strokeDash": {"datum": "m", "type": "nominal"}}},
 {"data": {"name": "M"}, "mark": {"type": "point", "shape": "M-1,0L1,0M0,-1L0,1M-0.7,-0.7L0.7,0.7M-0.7,0.7L0.7,-0.7", "filled": false, "size": 28, "strokeWidth": 1, "color": "#7e2f8e", "opacity": 1, "clip": true}}
]},
{"width": 275, "height": 197, "title": "(f) H-plane 86GHz",
 "encoding": {
  "x": {"field": "a", "type": "quantitative", "title": "Angle [deg.]", "scale": {"domain": [-180,180], "nice": false, "zero": false}, "axis": {"values": [-180,-135,-90,-45,0,45,90,135,180], "labelExpr": "'' + datum.value", "labelOverlap": false}},
  "y": {"field": "v", "type": "quantitative", "title": "Relative Amplitude [dB]", "scale": {"domain": [-70,0], "nice": false}, "axis": {"values": [0,-5,-10,-15,-20,-25,-30,-35,-40,-45,-50,-55,-60,-65,-70], "labelExpr": "'' + datum.value", "labelOverlap": false}}},
 "layer": [
 {"data": {"name": "F"}, "transform": [{"fold": ["c","x","s"], "as": ["k","v"]}], "mark": {"type": "line", "strokeWidth": 1, "clip": true},
  "encoding": {
   "color": {"field": "k", "type": "nominal", "scale": {"domain": ["c","x","s","m"], "range": ["#ff0000","#0000ff","#000000","#7e2f8e"]}, "legend": {"title": null, "labelExpr": "datum.label == 'c' ? 'Co-polar' : datum.label == 'x' ? 'Xp-polar' : datum.label == 's' ? 'Simulated' : 'Class II mask'", "encode": {"symbols": {"update": {"shape": {"signal": "datum.value == 'm' ? 'M-1,0L1,0M0,-0.45L0,0.45M-0.39,-0.22L0.39,0.22M-0.39,0.22L0.39,-0.22' : 'stroke'"}, "stroke": {"signal": "datum.value == 'c' ? '#ff0000' : datum.value == 'x' ? '#0000ff' : datum.value == 's' ? '#000000' : '#7e2f8e'"}, "strokeDash": {"signal": "datum.value == 's' ? [3,2] : datum.value == 'm' ? [2,2] : [1,0]"}, "strokeWidth": {"value": 1}, "fill": {"value": "transparent"}}}}}},
   "strokeDash": {"field": "k", "type": "nominal", "scale": {"domain": ["c","x","s","m"], "range": [[1,0],[1,0],[3,2],[2,2]]}, "legend": null}}},
 {"data": {"name": "M"}, "mark": {"type": "line", "strokeWidth": 1, "clip": true}, "encoding": {"color": {"datum": "m", "type": "nominal"}, "strokeDash": {"datum": "m", "type": "nominal"}}},
 {"data": {"name": "M"}, "mark": {"type": "point", "shape": "M-1,0L1,0M0,-1L0,1M-0.7,-0.7L0.7,0.7M-0.7,0.7L0.7,-0.7", "filled": false, "size": 28, "strokeWidth": 1, "color": "#7e2f8e", "opacity": 1, "clip": true}}
]}
]
}
